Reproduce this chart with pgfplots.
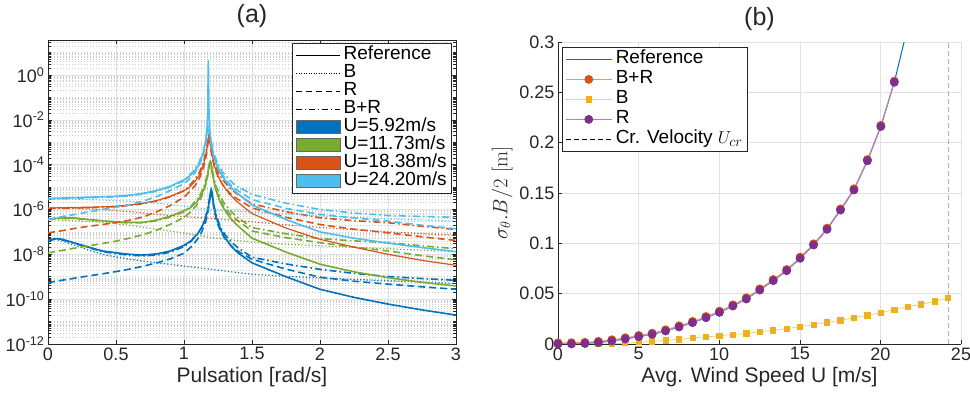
\documentclass[border=0pt]{standalone}
\usepackage[no-math]{fontspec}
\setmainfont{Liberation Sans}
\usepackage{pgfplots}
\pgfplotsset{compat=1.18}
\definecolor{mblue}{HTML}{0072BD}
\definecolor{mgreen}{HTML}{77AC30}
\definecolor{mred}{HTML}{D95319}
\definecolor{mlblue}{HTML}{4DBEEE}
\definecolor{myellow}{HTML}{EDB120}
\definecolor{mpurple}{HTML}{7E2F8E}
\definecolor{axgray}{HTML}{262626}
\definecolor{gridgray}{HTML}{E1E1E1}
\def\minorlist{}%
\foreach \n in {-12,...,1}{%
  \foreach \m in {0.30103,0.47712,0.60206,0.69897,0.77815,0.84510,0.90309,0.95424}{%
    \pgfmathparse{\n+\m}\xdef\minorlist{\minorlist\pgfmathresult,}}}%
\xdef\minorlist{\minorlist -11,-9,-7,-5,-3,-1,1}%
\tikzset{
  sol/.style={line width=1.6pt},
  dsh/.style={line width=1.6pt, dash pattern=on 7pt off 4pt},
  dtt/.style={line width=1.2pt, dash pattern=on 1.2pt off 2.2pt},
  ddt/.style={line width=1.6pt, dash pattern=on 7pt off 3pt on 1.6pt off 3pt},
}
\begin{document}
\begin{tikzpicture}
\path[use as bounding box] (0pt,0pt) rectangle (970pt,394pt);
% ---------------- (a) ----------------
\begin{axis}[
  at={(48pt,50pt)}, anchor=south west,
  scale only axis, width=408pt, height=304pt,
  xmin=0, xmax=3, ymin=-12, ymax=1.56,
  xtick={0,0.5,1,1.5,2,2.5,3},
  xticklabels={0,0.5,1,1.5,2,2.5,3},
  ytick={-12,-10,-8,-6,-4,-2,0},
  yticklabels={10\textsuperscript{-12},10\textsuperscript{-10},10\textsuperscript{-8},10\textsuperscript{-6},10\textsuperscript{-4},10\textsuperscript{-2},10\textsuperscript{0}},
  minor ytick/.expanded={\minorlist},
  grid=both,
  major grid style={gridgray, line width=0.5pt},
  minor grid style={gray!40, line width=0.5pt, dash pattern=on 1pt off 2pt},
  tick align=inside, major tick length=4pt, minor tick length=2.5pt,
  axis line style={axgray, line width=0.5pt},
  every tick/.style={axgray, line width=0.5pt},
  ticklabel style={font=\fontsize{18}{20}\selectfont, text=axgray},
  xlabel={Pulsation [rad/s]},
  label style={font=\fontsize{21}{24}\selectfont, text=axgray},
  title={(a)},
  title style={font=\fontsize{25}{28}\selectfont, text=axgray, at={(0.5,1)}, anchor=base, yshift=11pt},
  legend style={at={(0.99,0.99)}, anchor=north east, draw=axgray, line width=0.5pt, fill=white,
    font=\fontsize{19}{19}\selectfont, inner xsep=4pt, inner ysep=3pt, row sep=0pt, column sep=2pt,
    nodes={inner sep=1pt, text height=12.5pt, text depth=3.5pt}},
  legend cell align=left,
  legend image code/.code={\draw[#1] (0pt,0pt) -- (44pt,0pt);},
]
\addlegendimage{black, line width=0.8pt}
\addlegendentry{Reference}
\addlegendimage{black, line width=0.8pt, dash pattern=on 1pt off 1.5pt}
\addlegendentry{B}
\addlegendimage{black, line width=0.8pt, dash pattern=on 6pt off 4pt}
\addlegendentry{R}
\addlegendimage{black, line width=0.8pt, dash pattern=on 6pt off 3pt on 1pt off 3pt}
\addlegendentry{B+R}
\addlegendimage{legend image code/.code={\draw[fill=mblue, draw=axgray!70, line width=0.6pt] (0pt,-6.5pt) rectangle (44pt,6.5pt);}}
\addlegendentry{U=5.92m/s}
\addlegendimage{legend image code/.code={\draw[fill=mgreen, draw=axgray!70, line width=0.6pt] (0pt,-6.5pt) rectangle (44pt,6.5pt);}}
\addlegendentry{U=11.73m/s}
\addlegendimage{legend image code/.code={\draw[fill=mred, draw=axgray!70, line width=0.6pt] (0pt,-6.5pt) rectangle (44pt,6.5pt);}}
\addlegendentry{U=18.38m/s}
\addlegendimage{legend image code/.code={\draw[fill=mlblue, draw=axgray!70, line width=0.6pt] (0pt,-6.5pt) rectangle (44pt,6.5pt);}}
\addlegendentry{U=24.20m/s}
% ---- U = 5.92 (blue) ----
\addplot[mblue, dtt, forget plot] coordinates {(0,-7.38)(0.05,-7.32)(0.1,-7.4)(0.2,-7.6)(0.3,-7.82)(0.4,-8.0)(0.5,-8.12)(0.6,-8.22)(0.7,-8.3)(0.8,-8.38)(0.9,-8.45)(1.0,-8.52)(1.2,-8.67)(1.5,-8.89)(1.75,-8.98)(2.0,-9.05)(2.25,-9.12)(2.5,-9.18)(2.75,-9.24)(3.0,-9.3)};
\addplot[mblue, dsh, forget plot] coordinates {(0,-9.26)(0.1,-9.16)(0.2,-9.06)(0.3,-8.96)(0.4,-8.87)(0.5,-8.77)(0.6,-8.66)(0.7,-8.53)(0.8,-8.38)(0.9,-8.2)(1.0,-7.95)(1.05,-7.68)(1.1,-7.32)(1.13,-7.01)(1.16,-6.53)(1.18,-5.99)(1.19,-5.56)(1.195,-5.32)(1.2,-5.2)(1.205,-5.32)(1.21,-5.55)(1.22,-5.98)(1.24,-6.52)(1.27,-6.98)(1.3,-7.29)(1.35,-7.64)(1.4,-7.87)(1.5,-8.22)(1.75,-8.66)(2.0,-9.02)(2.25,-9.2)(2.5,-9.33)(2.75,-9.45)(3.0,-9.56)};
\addplot[mblue, ddt, forget plot] coordinates {(0,-7.4)(0.05,-7.33)(0.1,-7.35)(0.2,-7.52)(0.3,-7.7)(0.4,-7.88)(0.5,-7.97)(0.6,-8.04)(0.7,-8.07)(0.8,-8.03)(0.9,-7.9)(1.0,-7.66)(1.05,-7.43)(1.1,-7.09)(1.13,-6.79)(1.16,-6.32)(1.18,-5.8)(1.19,-5.43)(1.195,-5.24)(1.2,-5.15)(1.205,-5.24)(1.21,-5.43)(1.22,-5.82)(1.24,-6.34)(1.27,-6.81)(1.3,-7.11)(1.35,-7.47)(1.4,-7.72)(1.5,-8.13)(1.75,-8.43)(2.0,-8.67)(2.25,-8.85)(2.5,-8.99)(2.75,-9.08)(3.0,-9.16)};
\addplot[mblue, sol, forget plot] coordinates {(0,-7.38)(0.05,-7.30)(0.1,-7.32)(0.2,-7.5)(0.3,-7.68)(0.4,-7.85)(0.5,-7.93)(0.6,-8.0)(0.7,-8.03)(0.8,-7.98)(0.9,-7.85)(1.0,-7.6)(1.05,-7.4)(1.1,-7.09)(1.13,-6.8)(1.16,-6.37)(1.18,-5.84)(1.19,-5.43)(1.195,-5.22)(1.2,-5.11)(1.205,-5.22)(1.21,-5.43)(1.22,-5.86)(1.24,-6.41)(1.27,-6.91)(1.3,-7.25)(1.35,-7.66)(1.4,-7.95)(1.5,-8.38)(1.75,-9.0)(2.0,-9.56)(2.25,-9.92)(2.5,-10.22)(2.75,-10.48)(3.0,-10.71)};
% ---- U = 11.73 (green) ----
\addplot[mgreen, dtt, forget plot] coordinates {(0,-6.45)(0.2,-6.5)(0.4,-6.58)(0.6,-6.7)(0.8,-6.88)(1.0,-7.05)(1.2,-7.26)(1.5,-7.45)(1.75,-7.55)(2.0,-7.62)(2.5,-7.75)(3.0,-7.88)};
\addplot[mgreen, dsh, forget plot] coordinates {(0,-7.93)(0.1,-7.83)(0.2,-7.72)(0.3,-7.62)(0.4,-7.52)(0.5,-7.41)(0.6,-7.28)(0.7,-7.12)(0.8,-6.92)(0.9,-6.66)(1.0,-6.35)(1.043,-6.14)(1.093,-5.81)(1.123,-5.51)(1.153,-5.06)(1.173,-4.55)(1.183,-4.19)(1.188,-4.03)(1.193,-3.95)(1.198,-4.03)(1.203,-4.19)(1.213,-4.56)(1.233,-5.08)(1.263,-5.56)(1.293,-5.87)(1.343,-6.24)(1.393,-6.49)(1.5,-6.96)(1.75,-7.26)(2.0,-7.48)(2.25,-7.68)(2.5,-7.85)(2.75,-8.06)(3.0,-8.25)};
\addplot[mgreen, ddt, forget plot] coordinates {(0,-6.45)(0.05,-6.41)(0.1,-6.4)(0.2,-6.4)(0.3,-6.47)(0.4,-6.52)(0.5,-6.57)(0.6,-6.6)(0.7,-6.6)(0.8,-6.5)(0.9,-6.34)(1.0,-6.1)(1.043,-5.9)(1.093,-5.58)(1.123,-5.3)(1.153,-4.87)(1.173,-4.39)(1.183,-4.09)(1.188,-3.96)(1.193,-3.9)(1.198,-3.96)(1.203,-4.09)(1.213,-4.41)(1.233,-4.91)(1.263,-5.38)(1.293,-5.7)(1.343,-6.07)(1.393,-6.35)(1.5,-6.81)(1.75,-7.08)(2.0,-7.3)(2.25,-7.4)(2.5,-7.48)(2.75,-7.62)(3.0,-7.75)};
\addplot[mgreen, sol, forget plot] coordinates {(0,-6.44)(0.05,-6.4)(0.1,-6.38)(0.2,-6.38)(0.3,-6.45)(0.4,-6.5)(0.5,-6.55)(0.6,-6.58)(0.7,-6.57)(0.8,-6.47)(0.9,-6.3)(1.0,-6.05)(1.043,-5.94)(1.093,-5.67)(1.123,-5.41)(1.153,-4.99)(1.173,-4.49)(1.183,-4.11)(1.188,-3.9)(1.193,-3.85)(1.198,-3.91)(1.203,-4.13)(1.213,-4.54)(1.233,-5.1)(1.263,-5.62)(1.293,-5.97)(1.343,-6.4)(1.393,-6.71)(1.5,-7.28)(1.75,-7.9)(2.0,-8.44)(2.25,-8.78)(2.5,-9.04)(2.75,-9.25)(3.0,-9.41)};
% ---- U = 18.38 (red) ----
\addplot[mred, dtt, forget plot] coordinates {(0,-5.93)(0.2,-5.95)(0.4,-6.0)(0.6,-6.1)(0.8,-6.22)(1.0,-6.32)(1.2,-6.4)(1.5,-6.55)(1.75,-6.68)(2.0,-6.8)(2.5,-7.0)(3.0,-7.15)};
\addplot[mred, dsh, forget plot] coordinates {(0,-7.04)(0.1,-6.95)(0.2,-6.84)(0.3,-6.75)(0.4,-6.67)(0.5,-6.59)(0.6,-6.48)(0.7,-6.33)(0.8,-6.1)(0.9,-5.82)(1.0,-5.45)(1.034,-5.25)(1.084,-4.92)(1.114,-4.6)(1.144,-4.12)(1.164,-3.58)(1.174,-3.15)(1.179,-2.92)(1.184,-2.8)(1.189,-2.92)(1.194,-3.15)(1.204,-3.58)(1.224,-4.12)(1.254,-4.59)(1.284,-4.9)(1.334,-5.26)(1.384,-5.5)(1.5,-5.93)(1.75,-6.35)(2.0,-6.67)(2.25,-6.88)(2.5,-7.04)(2.75,-7.22)(3.0,-7.38)};
\addplot[mred, ddt, forget plot] coordinates {(0,-5.95)(0.05,-5.95)(0.1,-5.94)(0.2,-5.93)(0.3,-5.92)(0.4,-5.9)(0.5,-5.87)(0.6,-5.82)(0.7,-5.74)(0.8,-5.62)(0.9,-5.43)(1.0,-5.17)(1.034,-4.97)(1.084,-4.64)(1.114,-4.34)(1.144,-3.87)(1.164,-3.35)(1.174,-2.98)(1.179,-2.79)(1.184,-2.7)(1.189,-2.79)(1.194,-2.98)(1.204,-3.37)(1.224,-3.9)(1.254,-4.37)(1.284,-4.67)(1.334,-5.03)(1.384,-5.28)(1.5,-5.75)(1.75,-6.1)(2.0,-6.37)(2.25,-6.5)(2.5,-6.59)(2.75,-6.75)(3.0,-6.89)};
\addplot[mred, line width=1.2pt, forget plot] coordinates {(0,-5.93)(0.05,-5.93)(0.1,-5.92)(0.2,-5.91)(0.3,-5.9)(0.4,-5.88)(0.5,-5.85)(0.6,-5.8)(0.7,-5.72)(0.8,-5.6)(0.9,-5.41)(1.0,-5.15)(1.034,-5.05)(1.084,-4.73)(1.114,-4.45)(1.144,-4.0)(1.164,-3.46)(1.174,-3.02)(1.179,-2.76)(1.184,-2.62)(1.189,-2.76)(1.194,-3.02)(1.204,-3.49)(1.224,-4.06)(1.254,-4.56)(1.284,-4.89)(1.334,-5.31)(1.384,-5.62)(1.5,-6.18)(1.75,-6.83)(2.0,-7.33)(2.25,-7.68)(2.5,-8.0)(2.75,-8.27)(3.0,-8.49)};
% ---- U = 24.20 (light blue) ----
\addplot[mlblue, dtt, forget plot] coordinates {(0,-5.52)(0.2,-5.54)(0.4,-5.58)(0.6,-5.63)(0.8,-5.72)(0.9,-5.78)(1.0,-5.85)(1.1,-5.93)(1.2,-6.0)(1.5,-6.12)(1.75,-6.2)(2.0,-6.28)(2.5,-6.42)(3.0,-6.52)};
\addplot[mlblue, dsh, forget plot] coordinates {(0,-6.44)(0.1,-6.32)(0.2,-6.22)(0.3,-6.11)(0.4,-6.0)(0.5,-5.9)(0.6,-5.78)(0.7,-5.63)(0.8,-5.42)(0.9,-5.15)(1.0,-4.85)(1.029,-4.7)(1.079,-4.37)(1.109,-4.07)(1.139,-3.61)(1.159,-3.08)(1.169,-2.65)(1.174,-2.42)(1.179,-2.3)(1.184,-2.42)(1.189,-2.65)(1.199,-3.09)(1.219,-3.64)(1.249,-4.12)(1.279,-4.44)(1.329,-4.82)(1.379,-5.09)(1.5,-5.56)(1.75,-5.95)(2.0,-6.22)(2.25,-6.38)(2.5,-6.52)(2.75,-6.7)(3.0,-6.86)};
\addplot[mlblue, ddt, forget plot] coordinates {(0,-5.53)(0.05,-5.52)(0.1,-5.52)(0.2,-5.5)(0.3,-5.48)(0.4,-5.46)(0.5,-5.44)(0.6,-5.39)(0.7,-5.31)(0.8,-5.18)(0.9,-4.99)(1.0,-4.72)(1.029,-4.55)(1.079,-4.22)(1.109,-3.92)(1.139,-3.47)(1.159,-2.93)(1.169,-2.53)(1.174,-2.31)(1.179,-2.2)(1.184,-2.31)(1.189,-2.53)(1.199,-2.95)(1.219,-3.49)(1.249,-3.97)(1.279,-4.29)(1.329,-4.66)(1.379,-4.92)(1.5,-5.33)(1.75,-5.72)(2.0,-6.0)(2.25,-6.16)(2.5,-6.27)(2.75,-6.31)(3.0,-6.35)};
\addplot[mlblue, sol, forget plot] coordinates {(0,-5.51)(0.05,-5.5)(0.1,-5.49)(0.2,-5.47)(0.3,-5.45)(0.4,-5.43)(0.5,-5.41)(0.6,-5.36)(0.7,-5.28)(0.8,-5.15)(0.9,-4.96)(1.0,-4.68)(1.029,-4.57)(1.079,-4.27)(1.109,-4.0)(1.139,-3.54)(1.159,-2.96)(1.169,-2.37)(1.174,-1.78)(1.179,0.67)(1.184,-1.79)(1.189,-2.4)(1.199,-3.01)(1.219,-3.64)(1.249,-4.16)(1.279,-4.5)(1.329,-4.9)(1.379,-5.21)(1.5,-5.8)(1.75,-6.45)(2.0,-7.0)(2.25,-7.28)(2.5,-7.5)(2.75,-7.7)(3.0,-7.88)};
\end{axis}
% ---------------- (b) ----------------
\begin{axis}[
  at={(558pt,50pt)}, anchor=south west,
  scale only axis, width=403pt, height=302pt,
  xmin=0, xmax=25, ymin=0, ymax=0.3,
  xtick={0,5,10,15,20,25}, xticklabels={0,5,10,15,20,25},
  ytick={0,0.05,0.1,0.15,0.2,0.25,0.3}, yticklabels={0,0.05,0.1,0.15,0.2,0.25,0.3},
  axis x line*=bottom, axis y line*=left,
  grid=major, major grid style={gridgray, line width=0.5pt},
  tick align=inside, major tick length=4pt,
  axis line style={axgray, line width=0.5pt, -},
  every tick/.style={axgray, line width=0.5pt},
  ticklabel style={font=\fontsize{18}{20}\selectfont, text=axgray},
  xlabel={Avg. Wind Speed U [m/s]},
  ylabel={$\sigma_\theta .B/2~[\mathrm{m}]$},
  label style={font=\fontsize{21}{24}\selectfont, text=axgray},
  ylabel style={font=\fontsize{22}{24}\selectfont},
  title={(b)},
  title style={font=\fontsize{25}{28}\selectfont, text=axgray, at={(0.5,1)}, anchor=base, yshift=11pt},
  legend style={at={(0.01,0.983)}, anchor=north west, draw=axgray, line width=0.5pt, fill=white,
    font=\fontsize{19}{19}\selectfont, inner xsep=3pt, inner ysep=2pt, row sep=0pt, column sep=2pt,
    nodes={inner sep=1.5pt, text height=13pt, text depth=4pt}},
  legend cell align=left,
  legend image code/.code={\draw[mark repeat=2, mark phase=2, #1] plot coordinates {(0pt,0pt) (23pt,0pt) (46pt,0pt)};},
]
\addplot[mblue, line width=1pt] coordinates {(0,0)(0.834,0.0001)(1.669,0.0005)(2.503,0.0015)(3.338,0.003)(4.172,0.005)(5.007,0.0073)(5.841,0.0096)(6.676,0.0129)(7.510,0.0169)(8.345,0.0212)(9.179,0.0261)(10.014,0.0314)(10.848,0.0377)(11.683,0.0447)(12.517,0.0536)(13.352,0.0629)(14.186,0.0728)(15.021,0.0851)(15.855,0.0983)(16.690,0.1139)(17.524,0.133)(18.359,0.153)(19.193,0.182)(20.028,0.216)(20.862,0.260)(21.697,0.315)};
\addlegendentry{Reference}
\addplot[mred!60!white, line width=0.8pt, mark=*, mark size=4pt, mark options={fill=mred, draw=mred}] coordinates {(0,0.0012)(0.834,0.0013)(1.669,0.0017)(2.503,0.0027)(3.338,0.0042)(4.172,0.0062)(5.007,0.0085)(5.841,0.0108)(6.676,0.0141)(7.510,0.0181)(8.345,0.0224)(9.179,0.0273)(10.014,0.0326)(10.848,0.0389)(11.683,0.0459)(12.517,0.0548)(13.352,0.0641)(14.186,0.074)(15.021,0.0863)(15.855,0.0995)(16.690,0.1151)(17.524,0.1342)(18.359,0.1542)(19.193,0.1832)(20.028,0.2172)(20.862,0.2612)};
\addlegendentry{B+R}
\addplot[myellow!60!white, line width=0.8pt, mark=square*, mark size=2.6pt, mark options={fill=myellow, draw=myellow}] coordinates {(0,0)(0.834,0.00002)(1.669,0.0001)(2.503,0.0002)(3.338,0.0004)(4.172,0.0007)(5.007,0.0017)(5.841,0.0026)(6.676,0.0036)(7.510,0.0046)(8.345,0.006)(9.179,0.007)(10.014,0.0083)(10.848,0.0093)(11.683,0.0106)(12.517,0.0122)(13.352,0.0136)(14.186,0.0152)(15.021,0.0172)(15.855,0.0192)(16.690,0.0215)(17.524,0.0235)(18.359,0.0261)(19.193,0.0285)(20.028,0.0311)(20.862,0.0341)(21.697,0.0371)(22.531,0.0394)(23.366,0.0424)(24.2,0.0454)};
\addlegendentry{B}
\addplot[mpurple!60!white, line width=0.8pt, mark=*, mark size=4pt, mark options={fill=mpurple, draw=mpurple}] coordinates {(0,0)(0.834,0.0001)(1.669,0.0005)(2.503,0.0015)(3.338,0.003)(4.172,0.005)(5.007,0.0073)(5.841,0.0096)(6.676,0.0129)(7.510,0.0169)(8.345,0.0212)(9.179,0.0261)(10.014,0.0314)(10.848,0.0377)(11.683,0.0447)(12.517,0.0536)(13.352,0.0629)(14.186,0.0728)(15.021,0.0851)(15.855,0.0983)(16.690,0.1139)(17.524,0.133)(18.359,0.153)(19.193,0.182)(20.028,0.216)(20.862,0.260)};
\addlegendentry{R}
\addlegendimage{black, line width=0.8pt, dash pattern=on 5pt off 3pt}
\addlegendentry{Cr. Velocity $U_{cr}$}
\addplot[gray!60, line width=0.8pt, dash pattern=on 5pt off 3pt, forget plot] coordinates {(24.2,0)(24.2,0.3)};
\end{axis}
\end{tikzpicture}
\end{document}
